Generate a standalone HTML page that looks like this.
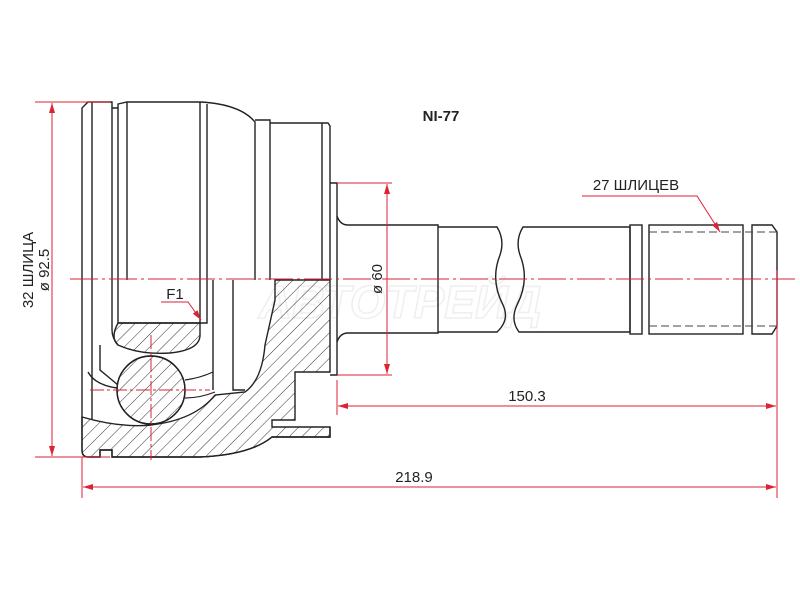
<!DOCTYPE html>
<html><head><meta charset="utf-8"><style>
html,body{margin:0;padding:0;background:#fff;}
svg{display:block;}
text{font-family:"Liberation Sans",sans-serif;fill:#222;}
</style></head><body>
<svg width="800" height="600" viewBox="0 0 800 600" xmlns="http://www.w3.org/2000/svg">
<defs>
<pattern id="h" patternUnits="userSpaceOnUse" width="9" height="9" patternTransform="rotate(45)">
<line x1="0" y1="0" x2="0" y2="9" stroke="#333" stroke-width="1"/>
</pattern>
<marker id="a" markerWidth="10" markerHeight="6" refX="10" refY="3" orient="auto-start-reverse" markerUnits="userSpaceOnUse"><path d="M0,0 L10,3 L0,6 z" fill="#d23"/></marker>
</defs>

<text x="400" y="318" font-size="46" font-style="italic" font-weight="bold" text-anchor="middle" stroke="#efefef" stroke-width="1.5" style="fill:none">АВТОТРЕЙД</text>

<g fill="none" stroke="#222" stroke-width="1.4">
<path d="M82,280 L82,108 L88,102 L112,102 L112,108 L118,108 L118,104 L127,102 L200,102 Q240,104 255,122 L255,280"/>
<path d="M255,120 L270,120 L270,280 M270,123 L328,123 L330,126 L330,183"/>
<line x1="92" y1="102" x2="92" y2="280"/>
<line x1="112" y1="108" x2="112" y2="280"/>
<line x1="118" y1="108" x2="118" y2="280"/>
<line x1="127" y1="102" x2="127" y2="280"/>
<line x1="200" y1="102" x2="200" y2="280"/>
<line x1="207" y1="104" x2="207" y2="280"/>
<line x1="322" y1="123" x2="322" y2="280"/>
<line x1="330" y1="183" x2="330" y2="280"/>
<path d="M330,183 L337,183 L337,375 L330,375"/>
<path d="M337,216 Q340,225 348,225 L438,225 L438,333 L348,333 Q340,333 337,342"/>
<path d="M438,227 L497,227 Q505,240 500,255 Q490,280 503,305 Q510,320 497,332 L438,332"/>
<path d="M523,227 Q515,240 520,255 Q530,280 517,305 Q510,320 519,332 L630,332 L630,227 Z"/>
<rect x="630" y="225" width="12" height="109"/>
<rect x="649" y="225" width="94" height="109"/>
<path d="M752,225 L772,225 L777,232 L777,326 L772,334 L752,334 Z"/>
<path d="M82,280 L82,450 Q82,457 88,457 L100,457 L100,450 L112,450 L112,457 L200,457 Q250,455 272,437 L330,437 L330,427"/>
<line x1="92" y1="280" x2="92" y2="420"/>
<path d="M112,280 L112,330 Q112,338 118,345"/>
<path d="M118,280 L118,323 L200,323 L200,280"/>
<path d="M207,280 L207,323 L200,323"/>
<path d="M213,280 L213,390 M233,280 L233,390 L245,390"/>
<path d="M100,345 L100,370 L112,380 L118,385"/>
<path d="M88,372 Q95,385 117,388"/>
</g>

<path d="M82,417 Q120,428 151,425 Q195,420 215,395 L245,392 Q262,380 265,345 L275,300 L275,280 L330,280 L330,372 L295,372 L295,420 L272,420 L272,427 L330,427 L330,437 L272,437 Q250,455 200,457 L112,457 L112,450 L100,450 L100,457 L88,457 Q82,457 82,450 Z" fill="url(#h)" stroke="#222" stroke-width="1.4"/>
<path d="M118,323 L200,323 L200,335 Q200,350 170,353 Q140,355 118,345 Q110,338 118,323 Z" fill="url(#h)" stroke="#222" stroke-width="1.4"/>
<path d="M185,380 Q200,378 213,372 M185,398 Q200,398 215,392" fill="none" stroke="#222" stroke-width="1.2"/>
<circle cx="151" cy="390" r="34" fill="#fff" stroke="#222" stroke-width="1.4"/>
<circle cx="151" cy="390" r="34" fill="url(#h)" stroke="#222" stroke-width="1.4"/>

<g stroke="#444" stroke-width="1" stroke-dasharray="8,4">
<line x1="649" y1="232" x2="777" y2="232"/>
<line x1="649" y1="326" x2="777" y2="326"/>
</g>

<g stroke="#d23" stroke-width="1" fill="none">
<line x1="70" y1="279" x2="795" y2="279" stroke-dasharray="28,4,3,4"/>
<line x1="151" y1="335" x2="151" y2="460" stroke-dasharray="14,3,3,3"/>
<line x1="90" y1="390" x2="210" y2="390" stroke-dasharray="14,3,3,3"/>
<line x1="35" y1="102" x2="110" y2="102"/>
<line x1="35" y1="457" x2="110" y2="457"/>
<line x1="52" y1="103" x2="52" y2="456" marker-start="url(#a)" marker-end="url(#a)"/>
<line x1="337" y1="183" x2="392" y2="183"/>
<line x1="337" y1="375" x2="392" y2="375"/>
<line x1="387" y1="184" x2="387" y2="374" marker-start="url(#a)" marker-end="url(#a)"/>
<line x1="82" y1="457" x2="82" y2="498"/>
<line x1="777" y1="270" x2="777" y2="498"/>
<line x1="337" y1="380" x2="337" y2="415"/>
<line x1="338" y1="406" x2="776" y2="406" marker-start="url(#a)" marker-end="url(#a)"/>
<line x1="83" y1="487" x2="776" y2="487" marker-start="url(#a)" marker-end="url(#a)"/>
<path d="M582,196 L697,196 L720,232" marker-end="url(#a)"/>
<path d="M161,302 L188,302 L201,320" marker-end="url(#a)"/>
</g>

<text x="441" y="121" font-size="15" font-weight="bold" text-anchor="middle">NI-77</text>
<text x="636" y="190" font-size="15" text-anchor="middle">27 ШЛИЦЕВ</text>
<text x="527" y="401" font-size="15" text-anchor="middle">150.3</text>
<text x="414" y="482" font-size="15" text-anchor="middle">218.9</text>
<text x="175" y="299" font-size="15" text-anchor="middle">F1</text>
<text transform="translate(382,279) rotate(-90)" font-size="15" text-anchor="middle">ø 60</text>
<text transform="translate(33,270) rotate(-90)" font-size="15" text-anchor="middle">32 ШЛИЦА</text>
<text transform="translate(49,270) rotate(-90)" font-size="15" text-anchor="middle">ø 92.5</text>
</svg>
</body></html>
